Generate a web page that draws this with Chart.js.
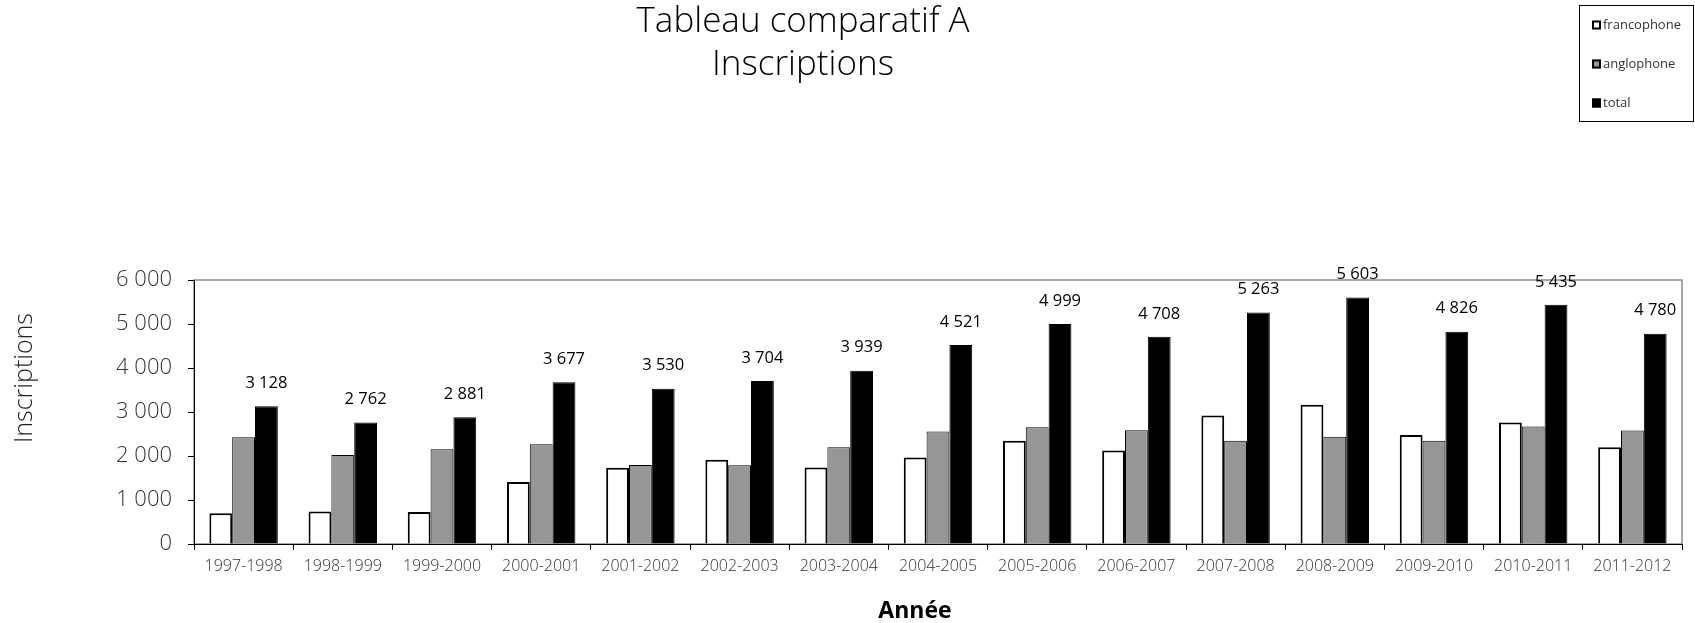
<!DOCTYPE html>
<html>
<head>
<meta charset="utf-8">
<script src="https://cdn.jsdelivr.net/npm/chart.js@4.4.1/dist/chart.umd.min.js"></script>
<style>
  html, body { margin: 0; padding: 0; background: #fff; }
  #wrap { width: 1695px; height: 623px; }
</style>
</head>
<body>
<div id="wrap"><canvas id="graphique" width="1695" height="623"></canvas></div>
<script>
const annees = ['1997-1998', '1998-1999', '1999-2000', '2000-2001', '2001-2002', '2002-2003', '2003-2004',
    '2004-2005', '2005-2006', '2006-2007', '2007-2008', '2008-2009', '2009-2010', '2010-2011', '2011-2012'];
const francophone = [700, 740, 730, 1410, 1735, 1915, 1740, 1965, 2345, 2123, 2918, 3165, 2480, 2763, 2200];
const anglophone = [2428, 2022, 2151, 2267, 1795, 1789, 2199, 2556, 2654, 2585, 2345, 2438, 2346, 2672, 2580];
const total = [3128, 2762, 2881, 3677, 3530, 3704, 3939, 4521, 4999, 4708, 5263, 5603, 4826, 5435, 4780];
const graduations = [0, 1000, 2000, 3000, 4000, 5000, 6000];

const fin = "'Open Sans', 'DejaVu Sans', sans-serif";

// 6 000, 3 128 ...
const espaces = v => String(v).replace(/\B(?=(\d{3})+(?!\d))/g, ' ');

// cadre gris autour de la zone de tracé
const cadre = {
    id: 'cadre',
    beforeDraw(chart) {
        const { ctx, chartArea: a } = chart;
        ctx.save();
        ctx.strokeStyle = '#8c8c8c';
        ctx.lineWidth = 1.5;
        ctx.strokeRect(a.left, a.top, a.right - a.left, a.bottom - a.top);
        ctx.restore();
    }
};

// étiquettes des totaux au-dessus des barres noires
const etiquettes = {
    id: 'etiquettes',
    afterDatasetsDraw(chart) {
        const { ctx } = chart;
        const meta = chart.getDatasetMeta(2);
        ctx.save();
        ctx.font = "16.5px " + fin;
        ctx.fillStyle = '#000';
        ctx.textAlign = 'center';
        ctx.textBaseline = 'middle';
        meta.data.forEach((bar, i) => {
            ctx.fillText(espaces(total[i]), bar.x, bar.y - 23);
        });
        ctx.restore();
    }
};

// titres et légende encadrée, placés comme dans le graphique Excel
const entete = {
    id: 'entete',
    afterDraw(chart) {
        const { ctx, chartArea: a } = chart;
        ctx.save();
        ctx.fillStyle = '#000';
        ctx.textAlign = 'center';
        ctx.textBaseline = 'middle';
        ctx.font = "300 35px " + fin;
        ctx.fillText('Tableau comparatif A', 803, 22);
        ctx.fillText('Inscriptions', 803, 65);

        // titres des axes (décalés comme dans l'original)
        ctx.font = "bold 23px " + fin;
        ctx.fillText('Année', (a.left + a.right) / 2 - 23, a.bottom + 67);
        ctx.save();
        ctx.translate(25, (a.top + a.bottom) / 2 - 34);
        ctx.rotate(-Math.PI / 2);
        ctx.fillStyle = '#222';
        ctx.font = "300 25px " + fin;
        ctx.fillText('Inscriptions', 0, 0);
        ctx.restore();

        ctx.strokeStyle = '#000';
        ctx.lineWidth = 1;
        ctx.strokeRect(1579.5, 5.5, 114, 116);
        ctx.textAlign = 'left';
        ctx.font = "13px " + fin;
        chart.data.datasets.forEach((ds, i) => {
            const y = 25 + i * 39;
            ctx.fillStyle = ds.backgroundColor;
            ctx.fillRect(1592, y - 4.5, 9, 9);
            ctx.strokeStyle = '#000';
            ctx.lineWidth = 2;
            ctx.strokeRect(1593, y - 3.5, 7, 7);
            ctx.fillStyle = '#333';
            ctx.fillText(ds.label, 1603, y);
        });
        ctx.restore();
    }
};

new Chart(document.getElementById('graphique'), {
    type: 'bar',
    data: {
        labels: annees,
        datasets: [
            { label: 'francophone', data: francophone, backgroundColor: '#ffffff', borderColor: '#000', borderWidth: 2 },
            { label: 'anglophone', data: anglophone, backgroundColor: '#969696', borderColor: '#000', borderWidth: 1 },
            { label: 'total', data: total, backgroundColor: '#000000', borderColor: '#000', borderWidth: 1 },
        ]
    },
    options: {
        responsive: false,
        animation: false,
        categoryPercentage: 0.69,
        barPercentage: 1.0,
        layout: { padding: { top: 280, right: 13, left: 0, bottom: 0 } },
        plugins: {
            legend: { display: false },
            tooltip: { enabled: false },
        },
        scales: {
            x: {
                afterFit: s => { s.height = 79; },
                grid: { display: true, drawOnChartArea: false, drawTicks: true, tickLength: 6, color: '#000' },
                border: { display: true, color: '#000', width: 1 },
                ticks: { color: '#333', font: { family: fin, size: 16, weight: 300 }, padding: 7, maxRotation: 0 },
                title: { display: false, text: 'Année' }
            },
            y: {
                min: 0,
                max: 6000,
                afterFit: s => { s.width = 194; },
                afterBuildTicks: s => { s.ticks = graduations.map(v => ({ value: v })); },
                grid: { display: true, drawOnChartArea: false, drawTicks: true, tickLength: 6, color: '#000' },
                border: { display: true, color: '#000', width: 1 },
                ticks: { color: '#333', font: { family: fin, size: 22, weight: 300 }, padding: 16, callback: v => espaces(v) },
                title: { display: false, text: 'Inscriptions' }
            }
        }
    },
    plugins: [cadre, etiquettes, entete]
});
</script>
</body>
</html>
